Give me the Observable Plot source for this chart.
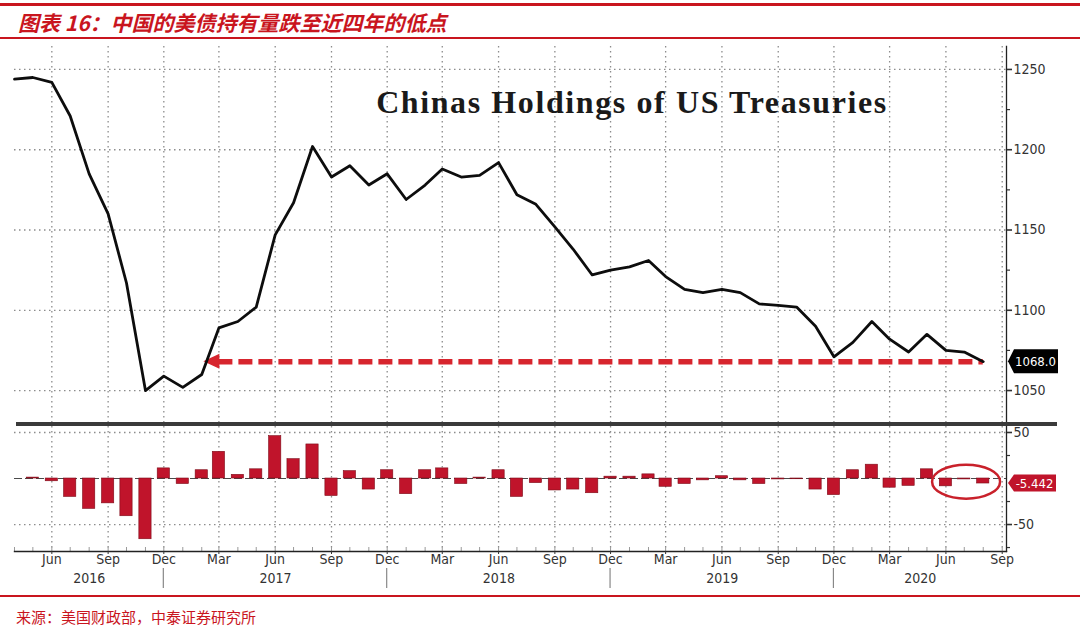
<!DOCTYPE html>
<html><head><meta charset="utf-8">
<script src="https://cdn.jsdelivr.net/npm/d3@7"></script>
<script src="https://cdn.jsdelivr.net/npm/@observablehq/plot@0.6"></script>
<style>
body{margin:0;background:#fff;}
#wrap{position:relative;width:1080px;height:627px;background:#fff;overflow:hidden;}
.abs{position:absolute;}
#title{left:18px;top:10px;font-family:'Noto Sans CJK SC',sans-serif;font-size:21px;line-height:24px;font-weight:bold;font-style:italic;color:#c9151e;white-space:nowrap;}
#source{left:16px;top:607px;font-family:'Noto Sans CJK SC',sans-serif;font-size:15px;line-height:20px;color:#c9151e;white-space:nowrap;}
</style></head><body>
<div id="wrap">
  <div class="abs" style="left:0;top:3px;width:1080px;height:3px;background:#c9151e"></div>
  <div class="abs" id="title">图表 16：中国的美债持有量跌至近四年的低点</div>
  <div class="abs" style="left:0;top:37px;width:1080px;height:2px;background:#c9151e"></div>
  <div class="abs" id="main" style="left:0;top:46px;"></div>
  <div class="abs" style="left:16px;top:422px;width:1041px;height:4px;background:#3a3a3a"></div>
  <div class="abs" id="sub" style="left:0;top:426px;"></div>
  <div class="abs" style="left:0;top:595px;width:1080px;height:2px;background:#c9151e"></div>
  <div class="abs" id="source">来源：美国财政部，中泰证券研究所</div>
</div>
<script>
// ---------- data ----------
const chartTitle = "Chinas Holdings of US Treasuries";
const startMonth = "2016-04";
const holdings = [
  1244, 1245, 1242, 1221, 1185, 1160, 1117, 1050, 1059,
  1052, 1060, 1089, 1093, 1102, 1147, 1167, 1202, 1183, 1190, 1178, 1185,
  1169, 1178, 1188, 1183, 1184, 1192, 1172, 1166, 1152, 1138, 1122, 1125,
  1127, 1131, 1121, 1113, 1111, 1113, 1111, 1104, 1103, 1102, 1090, 1071,
  1080, 1093, 1082, 1074, 1085, 1075, 1074, 1068
];
const changeStart = "2016-05";
const monthlyChange = [
  1, -3, -20, -33, -27, -41, -66, 11,
  -6, 9, 29, 4, 10, 46, 21, 37, -19, 8, -12, 9,
  -17, 9, 11, -6, 1, 9, -20, -5, -13, -12, -16, 2,
  2, 4.5, -9, -6, -2, 2.5, -2, -6, -1, -0.8, -12, -18,
  9, 15, -10, -8, 10, -8.5, -1, -5.442
];
const tickMonths = ["2016-06","2016-09","2016-12","2017-03","2017-06","2017-09","2017-12",
  "2018-03","2018-06","2018-09","2018-12","2019-03","2019-06","2019-09","2019-12",
  "2020-03","2020-06","2020-09"];
const years = [2016, 2017, 2018, 2019, 2020];
const mainTicks = [1050, 1100, 1150, 1200, 1250];
const mainMinorTicks = [1075, 1125, 1175, 1225];
const subTicks = [50, -50];
const subMinorTicks = [25, -25, -75];
const lastValue = 1068.0;
const lastChange = -5.442;
const arrowFrom = "2017-03";
const highlightMonths = ["2020-06", "2020-08"];
const highlightLevel = -4;

// ---------- derived ----------
const FONT = "'Liberation Sans Narrow','Arial Narrow','DejaVu Sans Condensed',sans-serif";
const RED = "#d7252e";
const BAR = "#c0142b";
const parseMonth = d3.utcParse("%Y-%m");
const holdData = holdings.map((v, i) => ({date: d3.utcMonth.offset(parseMonth(startMonth), i), value: v}));
const chgData = monthlyChange.map((v, i) => ({date: d3.utcMonth.offset(parseMonth(changeStart), i), value: v}));
const lastDate = holdData[holdData.length - 1].date;
const xDomain = [new Date(Date.UTC(2016, 3, 1)), new Date(Date.UTC(2020, 8, 8))];
const quarterTicks = tickMonths.map(parseMonth);
const allMonths = d3.utcMonth.range(xDomain[0], xDomain[1]);
const yearSeps = years.slice(0, -1).map(y => new Date(Date.UTC(y, 11, 1)));
const yearCenters = years.map(y => {
  const a = Math.max(+xDomain[0], Date.UTC(y - 1, 11, 1));
  const b = Math.min(+xDomain[1], Date.UTC(y, 11, 1));
  return {year: y, date: new Date((a + b) / 2)};
});
const arrowDate = parseMonth(arrowFrom);
const hlDates = highlightMonths.map(parseMonth);
const hlCenter = new Date((+hlDates[0] + +hlDates[1]) / 2);

const W = 1080, ML = 14, MR = 74;
const gridStyle = {stroke: "#8c8c8c", strokeOpacity: 1, strokeWidth: 1.3, strokeDasharray: "1.5,3.5"};
const style = {fontFamily: FONT, fontSize: "14px", color: "#333", background: "transparent", overflow: "visible"};

function valueBox(value, text, fill, w, h, fs) {
  return (index, scales, values, dim) => {
    const y = scales.y(value);
    const x0 = dim.width - dim.marginRight + 2;
    const g = d3.create("svg:g");
    g.append("path")
      .attr("d", `M${x0},${y}L${x0 + 6},${y - h / 2}L${x0 + w},${y - h / 2}L${x0 + w},${y + h / 2}L${x0 + 6},${y + h / 2}Z`)
      .attr("fill", fill);
    g.append("text").attr("x", x0 + 5 + (w - 5) / 2).attr("y", y).attr("dy", "0.35em")
      .attr("text-anchor", "middle").attr("fill", "#fff").attr("font-size", fs)
      .attr("font-family", FONT).text(text);
    return g.node();
  };
}

const titleMark = (index, scales, values, dim) => {
  const x1 = dim.marginLeft, x2 = dim.width - dim.marginRight;
  const t = d3.create("svg:text")
    .attr("x", (x1 + x2) / 2 + 122).attr("y", dim.marginTop + 67)
    .attr("text-anchor", "middle")
    .attr("font-family", "'Liberation Serif','DejaVu Serif',serif")
    .attr("font-weight", "bold").attr("font-size", 32)
    .attr("letter-spacing", "1.6px").attr("fill", "#1a1a1a").text(chartTitle);
  return t.node();
};

const arrowHead = (index, scales) => {
  const x = scales.x(arrowDate), y = scales.y(lastValue);
  const g = d3.create("svg:g");
  g.append("path").attr("d", `M${x - 15},${y}L${x + 1},${y - 7.5}L${x + 1},${y + 7.5}Z`).attr("fill", RED);
  return g.node();
};

const ellipse = (index, scales) => {
  const g = d3.create("svg:g");
  g.append("ellipse").attr("cx", scales.x(hlCenter) + 2).attr("cy", scales.y(highlightLevel))
    .attr("rx", 34).attr("ry", 17).attr("fill", "none").attr("stroke", "#c9212b").attr("stroke-width", 2.5);
  return g.node();
};

const yearSepMark = (index, scales, values, dim) => {
  const g = d3.create("svg:g");
  const yb = dim.height - dim.marginBottom;
  for (const d of yearSeps) {
    const x = scales.x(d);
    g.append("line").attr("x1", x).attr("x2", x).attr("y1", yb + 17).attr("y2", yb + 37)
      .attr("stroke", "#888").attr("stroke-width", 1.2);
  }
  return g.node();
};

const main = Plot.plot({
  width: W, height: 376, marginTop: 0, marginBottom: 0, marginLeft: ML, marginRight: MR,
  x: {type: "utc", domain: xDomain, axis: null},
  y: {domain: [1030.1, 1264.3]},
  style,
  marks: [
    Plot.gridX({ticks: quarterTicks, ...gridStyle}),
    Plot.gridY({ticks: mainTicks, ...gridStyle}),
    titleMark,
    Plot.ruleY([lastValue], {x1: () => arrowDate, x2: () => lastDate, stroke: RED, strokeWidth: 5.5, strokeDasharray: "14,6"}),
    arrowHead,
    Plot.lineY(holdData, {x: "date", y: "value", stroke: "#0d0d0d", strokeWidth: 2.8}),
    Plot.frame({anchor: "right", stroke: "#222", strokeWidth: 1.3}),
    Plot.axisY({anchor: "right", ticks: mainTicks, tickSize: 5, tickPadding: 2, label: null,
      tickFormat: d => String(d), fill: "#333", strokeWidth: 1.6, fontSize: 14}),
    Plot.axisY({anchor: "right", ticks: mainMinorTicks, tickSize: 3, label: null, tickFormat: () => "", strokeWidth: 1.2}),
    valueBox(lastValue, d3.format(".1f")(lastValue), "#000", 50, 24, 13)
  ]
});
document.getElementById("main").appendChild(main);

const sub = Plot.plot({
  width: W, height: 168, marginTop: 0, marginBottom: 43, marginLeft: ML, marginRight: MR,
  x: {type: "utc", domain: xDomain},
  y: {domain: [-79.3, 56.5]},
  style,
  marks: [
    Plot.gridX({ticks: quarterTicks, ...gridStyle}),
    Plot.gridY({ticks: subTicks, ...gridStyle}),
    Plot.ruleY([0], {stroke: "#4a4a4a", strokeWidth: 1, strokeDasharray: "8,3"}),
    Plot.rectY(chgData, {x1: d => d3.utcDay.offset(d.date, -10), x2: d => d3.utcDay.offset(d.date, 10),
      y1: 0, y2: "value", fill: BAR, stroke: "#7d0b18", strokeWidth: 0.6}),
    ellipse,
    Plot.tickX(allMonths, {x: d => d, insetTop: 121, stroke: "#9a9a9a"}),
    Plot.frame({anchor: "bottom", stroke: "#222", strokeWidth: 1.4}),
    Plot.frame({anchor: "right", stroke: "#222", strokeWidth: 1.3}),
    Plot.axisX({ticks: quarterTicks, tickFormat: d3.utcFormat("%b"), tickSize: 3, tickPadding: 0, label: null,
      fill: "#333", fontSize: 14}),
    Plot.text(yearCenters, {x: "date", text: d => String(d.year), frameAnchor: "bottom", dy: 31, fill: "#333", fontSize: 14}),
    yearSepMark,
    Plot.axisY({anchor: "right", ticks: subTicks, tickSize: 5, tickPadding: 2, label: null,
      tickFormat: d => String(d), fill: "#333", strokeWidth: 1.6, fontSize: 14}),
    Plot.axisY({anchor: "right", ticks: subMinorTicks, tickSize: 3, label: null, tickFormat: () => "", strokeWidth: 1.2}),
    valueBox(lastChange, String(lastChange), BAR, 48, 17, 13)
  ]
});
document.getElementById("sub").appendChild(sub);
</script>
</body></html>
